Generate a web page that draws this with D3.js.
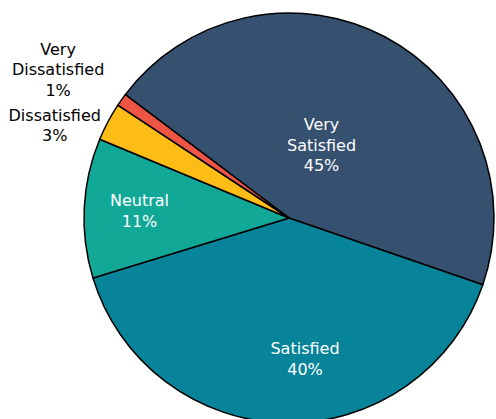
<!DOCTYPE html>
<html>
<head>
<meta charset="utf-8">
<script src="https://cdn.jsdelivr.net/npm/d3@7"></script>
<style>
  html, body { margin: 0; padding: 0; background: #fff; }
  svg text { font-family: "DejaVu Sans", sans-serif; font-size: 16px; }
</style>
</head>
<body>
<svg id="chart" width="496" height="419"></svg>
<script>
// data
var categories = ["Very Satisfied", "Satisfied", "Neutral", "Dissatisfied", "Very Dissatisfied"];
var values = [45, 40, 11, 3, 1];
var colors = ["#36506f", "#08849a", "#12a898", "#fdbd16", "#ee5545"];

// label placement: fraction of radius, angle nudge (deg), inside or not
var labelRadius = [0.39, 0.69, 0.73, 1.23, 1.34];
var labelTurn = [-4, -7.5, 0, -6.3, -2.4];
var labelInside = [true, true, true, false, false];

var cx = 289, cy = 218, radius = 205;
var startAngle = -53 * Math.PI / 180;

var svg = d3.select("#chart");
var g = svg.append("g").attr("transform", `translate(${cx},${cy})`);

var pie = d3.pie()
  .value(d => d.value)
  .sort(null)
  .startAngle(startAngle)
  .endAngle(startAngle + 2 * Math.PI);

var data = categories.map((c, i) => ({ name: c, value: values[i], idx: i }));
var arcs = pie(data);

var arc = d3.arc().innerRadius(0).outerRadius(radius);

g.selectAll("path.slice")
  .data(arcs)
  .enter()
  .append("path")
  .attr("class", "slice")
  .attr("d", arc)
  .attr("fill", d => colors[d.data.idx])
  .attr("stroke", "#000")
  .attr("stroke-width", 1.5)
  .attr("stroke-linejoin", "round");

// labels
var labels = g.selectAll("text.lbl")
  .data(arcs)
  .enter()
  .append("text")
  .attr("class", "lbl")
  .attr("text-anchor", "middle")
  .attr("fill", d => labelInside[d.data.idx] ? "#fff" : "#000")
  .attr("transform", d => {
    var i = d.data.idx;
    var r = labelRadius[i] * radius;
    var a = (d.startAngle + d.endAngle) / 2 + labelTurn[i] * Math.PI / 180;
    return `translate(${Math.sin(a) * r},${-Math.cos(a) * r})`;
  });

labels.each(function(d) {
  var words = d.data.name.split(" ");
  var lines = words.concat([d.data.value + "%"]);
  var lh = 20.5;
  var y0 = -((lines.length - 1) * lh) / 2 + 6;
  var t = d3.select(this);
  lines.forEach((l, i) => {
    t.append("tspan").attr("x", 0).attr("y", y0 + i * lh).text(l);
  });
});
</script>
</body>
</html>
